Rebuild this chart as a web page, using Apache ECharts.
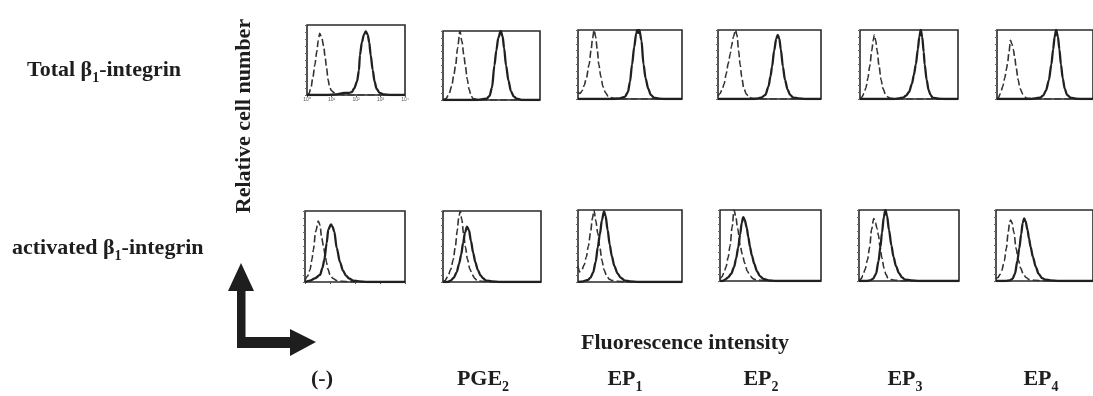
<!DOCTYPE html>
<html>
<head>
<meta charset="utf-8">
<title>β1-integrin flow cytometry</title>
<script src="https://cdn.jsdelivr.net/npm/echarts@6/dist/echarts.min.js"></script>
<style>
  html, body { margin: 0; padding: 0; background: #ffffff; }
  #chart { width: 1093px; height: 396px; }
</style>
</head>
<body>
<div id="chart"></div>
<script>
// Treatment groups (base text + subscript)
const groupBase = ['(-)', 'PGE', 'EP', 'EP', 'EP', 'EP'];
const groupSub = ['', '2', '1', '2', '3', '4'];

// Row labels
const rowLabels = [
  { pre: 'Total β', sub: '1', post: '-integrin' },
  { pre: 'activated β', sub: '1', post: '-integrin' }
];

// Decade tick labels of the fluorescence axis (log scale, 0..100 = 10^0..10^4)
const decadeLabels = ['10⁰', '10¹', '10²', '10³', '10⁴'];

// Histograms: [fluorescence position 0-100, relative cell number 0-100]
// Total β1-integrin, isotype control (dashed)
const totalIsotype = [
  [[0,0],[2,2],[4,10],[6,25],[8,43],[10,62],[11.5,78],[13,88],[15,82],[17,70],[18.5,54],[20,38],[21.5,22],[23,12],[25,6],[28,3],[33,1],[40,0],[100,0]],
  [[0,0],[3,2],[6,8],[9,20],[11,35],[13,50],[15,75],[17.5,100],[19.5,85],[21.5,65],[23,50],[25,30],[27,15],[29,6],[31,2],[36,1],[45,0],[100,0]],
  [[0,10],[2,8],[4,12],[6,20],[8,30],[10.7,50],[12.5,70],[14,88],[15.5,100],[17,90],[18.5,72],[20,50],[22,32],[24,18],[26.5,9],[29,4],[31,2],[36,1],[45,0],[100,0]],
  [[0,4],[2,8],[4,14],[6,22],[8,37],[10,52],[12,66],[13,76],[15,90],[17,100],[18.5,92],[20,70],[21.5,50],[23,32],[25,16],[27.5,7],[30,3],[33,1],[40,0],[100,0]],
  [[0,0],[2,3],[4,8],[6,16],[8,30],[10,48],[12,70],[13.5,85],[14.6,93],[16,85],[17.5,70],[19.4,48],[21.5,28],[23.5,15],[26,7],[28.5,3],[31,1],[38,0],[100,0]],
  [[0,0],[1.5,2],[3.5,8],[6,18],[8,30],[10,44],[11,52],[12.5,68],[14,85],[15.5,80],[17,72],[18.5,60],[20,45],[22,28],[24,15],[27,7],[29,3],[31,1],[38,0],[100,0]]
];
// Total β1-integrin, stained (solid)
const totalStained = [
  [[0,0],[20,0],[30,1],[38,3],[43,3],[45.6,4],[48,9],[51,19],[53,35],[54,57],[56,75],[58,86],[60,91],[62,86],[63.5,75],[65,57],[67,36],[69,19],[71,9],[74,3],[78,1],[85,0],[100,0]],
  [[0,0],[35,0],[40,1],[45,2],[48,6],[50.5,18],[53,50],[55,72],[57,90],[59.5,100],[61.5,92],[63,75],[65,50],[67.5,28],[70,13],[73,5],[76,2],[82,0],[100,0]],
  [[0,0],[35,0],[40,1],[45,3],[48,10],[50,25],[52,50],[54,75],[56,95],[57,100],[58,96],[59,100],[61,85],[63,50],[65,30],[67.5,15],[70,6],[73,2],[78,0.5],[85,0],[100,0]],
  [[0,0],[35,0],[39,1],[42,2],[46,6],[49,18],[51,33],[52.5,47],[54.5,70],[56.5,87],[58,93],[59.5,88],[61,72],[63,47],[65,28],[67.5,14],[70,6],[73,2],[78,1],[85,0],[100,0]],
  [[0,0],[35,0],[40,1],[44,2],[47,5],[50,10],[53,22],[55,35],[57,50],[59,72],[60.5,90],[62,100],[63.5,90],[65,68],[66,50],[68,28],[70,13],[72,6],[74,2],[80,0.5],[88,0],[100,0]],
  [[0,0],[35,0],[40,1],[45,2],[48,5],[51,12],[54,27],[56.6,50],[58.5,72],[60,90],[61.6,100],[63.5,90],[65,72],[66.6,50],[68.5,30],[70.5,15],[73,6],[76.6,2],[82,0.5],[90,0],[100,0]]
];
// Activated β1-integrin, isotype control (dashed)
const activIsotype = [
  [[0,2],[2.5,8],[5,17],[7,32],[8.3,45],[10.7,71],[13.3,86],[15,80],[16.7,62],[18.5,50],[20,39],[21.5,28],[23,18],[25,10],[28,5],[32,2],[37,1],[45,0],[100,0]],
  [[0,0],[2,2],[5,8],[8,18],[10.5,32],[12.6,50],[14.5,72],[16,90],[17.6,100],[19.2,88],[21,68],[22.8,50],[25,32],[27.5,18],[30,10],[32.5,5],[34.7,2],[40,1],[48,0],[100,0]],
  [[0,22],[1.5,14],[3.5,16],[6,24],[8,35],[10,50],[12,68],[13.8,88],[15.4,100],[17,86],[19,68],[21,48],[23,30],[25,17],[27.5,9],[30,4],[33,2],[38,1],[45,0],[100,0]],
  [[0,3],[2,6],[4,12],[6,20],[8,33],[10,50],[12,76],[13.9,100],[15.5,92],[17.5,74],[20,50],[22,38],[24.5,25],[27,14],[30,7],[33,3],[35,2],[40,1],[48,0],[100,0]],
  [[0,0],[2,3],[4,8],[6,16],[8.5,30],[10.7,48],[12.5,72],[14.7,88],[16.5,82],[18,74],[19.5,64],[21,48],[23,32],[25,18],[27,9],[29,4],[32,2],[37,1],[45,0],[100,0]],
  [[0,3],[2,5],[4,9],[6,15],[8.5,28],[10.7,46],[12.5,68],[14,82],[15,86],[16.5,82],[18.5,68],[20.7,46],[23,30],[25.5,18],[28,10],[31,5],[34,2],[40,1],[48,0],[100,0]]
];
// Activated β1-integrin, stained (solid)
const activStained = [
  [[0,0],[5,2],[10,5],[15,10],[17.5,20],[19.3,31],[21.7,55],[23.3,74],[26,81],[27.5,78],[29.3,71],[31.7,48],[35,28],[38,16],[41,9],[44,5],[48,2],[54,1],[62,0],[100,0]],
  [[0,0],[5,0],[7.8,2],[11,6],[14,14],[16.5,26],[18.6,39],[20.5,55],[22.5,70],[24.5,78],[26.5,73],[28.5,58],[30.8,41],[33,28],[35.5,17],[38.5,9],[41,5],[44,2],[50,1],[58,0],[100,0]],
  [[0,0],[5,1],[9.6,3],[12,6],[14.5,13],[17,28],[19,48],[21,66],[23,86],[25,98],[26.5,92],[28.5,72],[30.5,52],[32.5,36],[35,22],[38,12],[41,6],[45,2],[50,1],[58,0],[100,0]],
  [[0,0],[3,0],[5,2],[8,5],[11,10],[14,20],[16,32],[18,47],[20,66],[21.5,82],[23,90],[24.5,86],[26.5,75],[28,62],[29.7,48],[31.5,36],[34,24],[36.5,14],[39.5,7],[43,3],[48,1],[55,0],[100,0]],
  [[0,0],[8,0],[11,1],[14,3],[17,10],[19.5,28],[21.4,48],[23,68],[24.8,90],[26.4,100],[28,92],[30,72],[32.4,50],[34.5,34],[37,21],[40,11],[43,5],[46,2],[52,1],[60,0],[100,0]],
  [[0,0],[10,0],[14,1],[17,3],[19.5,10],[22,28],[24,46],[26,66],[27.5,82],[29,88],[30.5,84],[32.5,72],[34,60],[35.7,48],[38,34],[41,20],[44,10],[47.5,4],[51,2],[56,1],[65,0],[100,0]]
];

// Panel frames (pixel layout of each histogram box)
const panelBoxes = [
  [307, 25, 98, 70], [443, 31, 97, 69], [578, 30, 104, 69],
  [718, 30, 103, 69], [860, 30, 98, 69], [997, 30, 100, 69],
  [305, 211, 100, 71], [443, 211, 98, 71], [578, 210, 104, 72],
  [720, 210, 101, 71], [859, 210, 100, 71], [996, 210, 100, 71]
];
const groupCenters = [322, 483, 625, 761, 905, 1041];

const SERIF = '"Liberation Serif", "DejaVu Serif", serif';
const INK = '#1e1e1e';

const chart = echarts.init(document.getElementById('chart'), null, { renderer: 'canvas' });

const grids = [], xAxes = [], yAxes = [], series = [];
const rows = [[totalIsotype, totalStained], [activIsotype, activStained]];

panelBoxes.forEach((b, i) => {
  grids.push({
    left: b[0], top: b[1], width: b[2], height: b[3],
    show: true, borderColor: '#2a2a2a', borderWidth: 1.6, backgroundColor: 'transparent'
  });
  const first = (i === 0);
  xAxes.push({
    type: 'value', gridIndex: i, min: 0, max: 100, interval: 25,
    axisLine: { show: false },
    axisTick: { show: i % 6 === 0, length: 2, lineStyle: { color: '#555', width: 1 } },
    axisLabel: {
      show: first, fontSize: 5, color: '#555', margin: 2,
      formatter: v => decadeLabels[Math.round(v / 25)]
    },
    splitLine: { show: false }
  });
  yAxes.push({
    type: 'value', gridIndex: i, min: 0, max: 100, interval: 10,
    axisLine: { show: false },
    axisTick: { show: true, length: 2, lineStyle: { color: '#666', width: 1 } },
    axisLabel: { show: false },
    splitLine: { show: false }
  });
  const r = Math.floor(i / 6), c = i % 6;
  series.push({
    type: 'line', xAxisIndex: i, yAxisIndex: i,
    data: rows[r][0][c], showSymbol: false, smooth: 0.3, smoothMonotone: 'x',
    lineStyle: { color: '#333333', width: 1.6, type: [7, 3] },
    silent: true, animation: false
  });
  series.push({
    type: 'line', xAxisIndex: i, yAxisIndex: i,
    data: rows[r][1][c], showSymbol: false, smooth: 0.3, smoothMonotone: 'x',
    lineStyle: { color: '#202020', width: 2.3 },
    silent: true, animation: false
  });
});

// Main text and a lowered subscript run
const bigRich = {
  a: { fontFamily: SERIF, fontWeight: 'bold', fontSize: 22, lineHeight: 26, verticalAlign: 'top', color: INK },
  s: { fontFamily: SERIF, fontWeight: 'bold', fontSize: 14, lineHeight: 14, verticalAlign: 'top', padding: [12, 0, 0, 0], color: INK }
};
const subText = (pre, sub, post) =>
  '{a|' + pre + '}' + (sub ? '{s|' + sub + '}' : '') + (post ? '{a|' + post + '}' : '');

const graphic = [];
// Row labels
[[27, 68], [12, 246]].forEach((p, k) => {
  const lab = rowLabels[k];
  graphic.push({
    type: 'text', x: p[0], y: p[1] - 9, silent: true,
    style: { text: subText(lab.pre, lab.sub, lab.post), rich: bigRich, align: 'left', verticalAlign: 'top', fill: INK }
  });
});
// Axis titles
graphic.push({
  type: 'text', x: 244, y: 116, rotation: Math.PI / 2, silent: true,
  style: { text: 'Relative cell number', font: 'bold 22px ' + SERIF, align: 'center', verticalAlign: 'middle', fill: INK }
});
graphic.push({
  type: 'text', x: 685, y: 343, silent: true,
  style: { text: 'Fluorescence intensity', font: 'bold 22px ' + SERIF, align: 'center', verticalAlign: 'middle', fill: INK }
});
// Group labels
groupBase.forEach((g, k) => {
  graphic.push({
    type: 'text', x: groupCenters[k], y: 377 - 9, silent: true,
    style: { text: subText(g, groupSub[k], ''), rich: bigRich, align: 'center', verticalAlign: 'top', fill: INK }
  });
});
// Axis direction arrows
graphic.push({
  type: 'polygon', silent: true,
  shape: { points: [[241, 263], [254, 291], [245.5, 291], [245.5, 337], [290, 337], [290, 329], [316, 342], [290, 356], [290, 348], [237, 348], [237, 291], [228, 291]] },
  style: { fill: INK }
});

chart.setOption({
  animation: false,
  backgroundColor: '#ffffff',
  grid: grids,
  xAxis: xAxes,
  yAxis: yAxes,
  series: series,
  graphic: graphic
});
</script>
</body>
</html>
